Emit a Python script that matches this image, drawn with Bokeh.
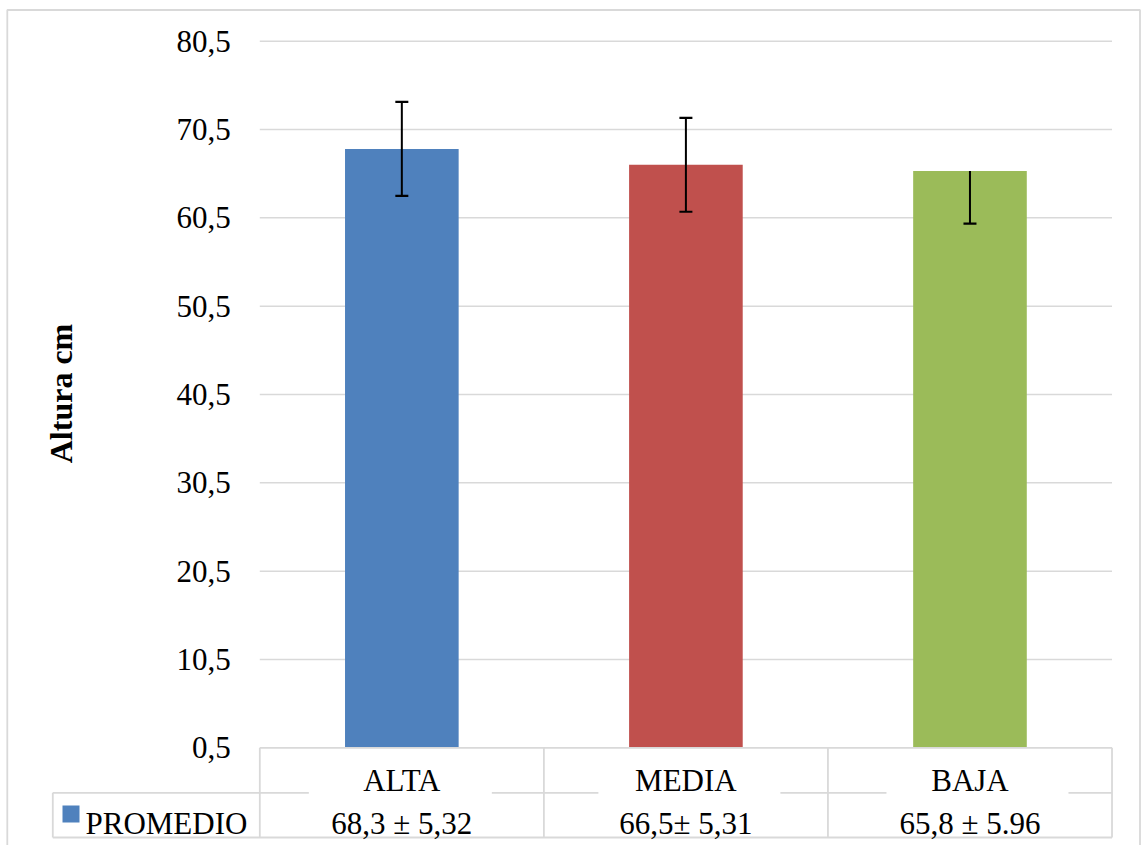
import math
from bokeh.plotting import figure
from bokeh.models import Range1d, LinearAxis, FixedTicker, CustomJSTickFormatter
from bokeh.core.properties import value
from bokeh.embed import file_html
from bokeh.resources import INLINE

# ---------------- data ----------------
categories = ["ALTA", "MEDIA", "BAJA"]
means = [68.3, 66.5, 65.8]
err_plus = [5.32, 5.31, 0.0]      # BAJA shows only the minus whisker
err_minus = [5.32, 5.31, 5.96]
table_labels = ["68,3 ± 5,32", "66,5± 5,31", "65,8 ± 5.96"]
colors = ["#4F81BD", "#C0504D", "#9BBB59"]
y_ticks = [0.5, 10.5, 20.5, 30.5, 40.5, 50.5, 60.5, 70.5, 80.5]
series_name = "PROMEDIO"
y_label = "Altura cm"

# ---------------- layout (pixels on the page) ----------------
W, H = 1141, 845
PAGE = 0
CAT_LEFT_PX = 259.3
CAT_W_PX = 284.07
Y_TOP_PX = 40.7
Y_BOT_PX = 747.3
FONT = "Liberation Serif"
GRID = "#d9d9d9"

ncat = len(categories)
x_start = -0.5 - (CAT_LEFT_PX - PAGE) / CAT_W_PX
x_end = x_start + W / CAT_W_PX
ky = (Y_BOT_PX - Y_TOP_PX) / (y_ticks[-1] - y_ticks[0])
y_end = y_ticks[-1] + (Y_TOP_PX - PAGE) / ky
y_start = y_end - H / ky


def dx(px):
    return x_start + (px - PAGE) / CAT_W_PX


def dy(py):
    return y_end - (py - PAGE) / ky


p = figure(width=W, height=H, output_backend="svg", toolbar_location=None,
           x_range=Range1d(x_start, x_end), y_range=Range1d(y_start, y_end),
           x_axis_location=None, y_axis_location=None,
           min_border_left=0, min_border_right=0, min_border_top=0, min_border_bottom=0)
p.outline_line_color = None
p.grid.visible = False
p.background_fill_color = "white"
p.border_fill_color = "white"

xs = list(range(ncat))
left_edge = -0.5
right_edge = ncat - 0.5

# gridlines
for t in y_ticks[1:]:
    p.segment(x0=[left_edge], y0=[t], x1=[right_edge], y1=[t], line_color=GRID, line_width=1.5)

# bars
p.vbar(x=xs, top=means, bottom=y_ticks[0], width=0.4, fill_color=colors, line_color=None)

# error bars
upper = [m + e for m, e in zip(means, err_plus)]
lower = [m - e for m, e in zip(means, err_minus)]
p.segment(x0=xs, y0=lower, x1=xs, y1=upper, line_color="black", line_width=2)
ch = 6.5 / CAT_W_PX
p.segment(x0=[x - ch for x in xs], y0=lower, x1=[x + ch for x in xs], y1=lower,
          line_color="black", line_width=2.2)
ux = [x for x, e in zip(xs, err_plus) if e > 0]
uy = [u for u, e in zip(upper, err_plus) if e > 0]
p.segment(x0=[x - ch for x in ux], y0=uy, x1=[x + ch for x in ux], y1=uy,
          line_color="black", line_width=2.2)

# y axis
yaxis = LinearAxis(fixed_location=left_edge, ticker=FixedTicker(ticks=y_ticks),
                   formatter=CustomJSTickFormatter(code="return tick.toFixed(1).replace('.', ',');"),
                   axis_line_color=None, major_tick_line_color=None, minor_tick_line_color=None,
                   major_tick_in=0, major_tick_out=0,
                   major_label_standoff=29, major_label_text_font=FONT,
                   major_label_text_font_size="31px", major_label_text_color="black")
p.add_layout(yaxis, "left")

# y label
p.text(x=[dx(60)], y=[dy(393)], text=[y_label], angle=math.pi / 2,
       text_font=value(FONT), text_font_size="32px", text_font_style="bold",
       text_align="center", text_baseline="middle", text_color="black")

# ---------------- data table ----------------
row1 = 792.3
tbl_bottom = 837.0
tbl_left = 52.3
# top line (at axis minimum)
p.segment(x0=[left_edge], y0=[y_ticks[0]], x1=[right_edge], y1=[y_ticks[0]], line_color=GRID, line_width=1.8)
# column verticals
vx = [i - 0.5 for i in range(ncat + 1)]
p.segment(x0=vx, y0=[y_ticks[0]] * len(vx), x1=vx, y1=[dy(tbl_bottom)] * len(vx), line_color=GRID, line_width=1.8)
# legend column
p.segment(x0=[dx(tbl_left)], y0=[dy(row1)], x1=[dx(tbl_left)], y1=[dy(tbl_bottom)], line_color=GRID, line_width=1.8)
p.segment(x0=[dx(tbl_left)], y0=[dy(row1)], x1=[left_edge], y1=[dy(row1)], line_color=GRID, line_width=1.8)
p.segment(x0=[dx(tbl_left)], y0=[dy(tbl_bottom)], x1=[right_edge], y1=[dy(tbl_bottom)], line_color=GRID, line_width=1.8)
# row separator with gaps around value labels
gap_l = [-93, -87.5, -83.5]
gap_r = [90, 94.5, 98.5]
sx0, sx1 = [], []
for i in range(ncat):
    sx0 += [i - 0.5, i + gap_r[i] / CAT_W_PX]
    sx1 += [i + gap_l[i] / CAT_W_PX, i + 0.5]
p.segment(x0=sx0, y0=[dy(row1)] * len(sx0), x1=sx1, y1=[dy(row1)] * len(sx0), line_color=GRID, line_width=1.8)

p.text(x=xs, y=[dy(780)] * ncat, text=categories, text_font=value(FONT), text_font_size="31px",
       text_align="center", text_baseline="alphabetic", text_color="black")
p.text(x=xs, y=[dy(823)] * ncat, text=table_labels, text_font=value(FONT), text_font_size="31px",
       text_align="center", text_baseline="alphabetic", text_color="black")
p.scatter(x=[dx(70.5)], y=[dy(813.5)], marker="square", size=17, fill_color=colors[0], line_color=None)
p.text(x=[dx(85)], y=[dy(823)], text=[series_name], text_font=value(FONT), text_font_size="31px",
       text_align="left", text_baseline="alphabetic", text_color="black")

# outer chart border
bx = [dx(6.8), dx(6.8), dx(1139.5), dx(1139.5)]
by = [dy(846), dy(9.5), dy(9.5), dy(846)]
p.line(x=bx, y=by, line_color=GRID, line_width=1.8)

open("out.html", "w").write(file_html(p, INLINE))
